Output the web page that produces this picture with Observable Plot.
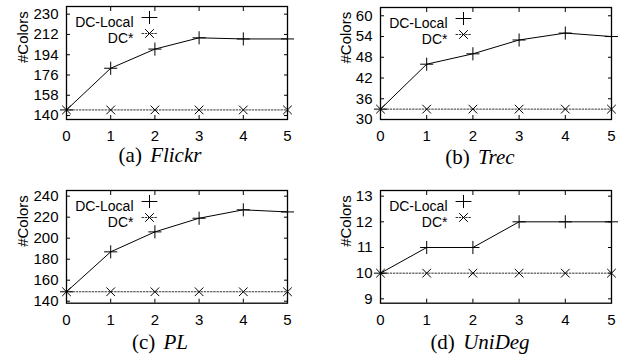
<!DOCTYPE html>
<html>
<head>
<meta charset="utf-8">
<script src="https://cdn.jsdelivr.net/npm/d3@7"></script>
<script src="https://cdn.jsdelivr.net/npm/@observablehq/plot@0.6"></script>
<style>
  html, body { margin: 0; padding: 0; background: #fff; color: #000; }
  #wrap { position: relative; width: 639px; height: 360px; overflow: hidden; }
  .panel { position: absolute; width: 320px; }
  .panel svg { display: block; }
  .cap { position: absolute; width: 320px; text-align: center; font-family: "Liberation Serif", "Times New Roman", serif; font-size: 21px; line-height: 21px; white-space: nowrap; }
  .cap i { font-style: italic; margin-left: 3px; }
</style>
</head>
<body>
<div id="wrap"></div>
<script>
// ---- data ----
const xs = [0, 1, 2, 3, 4, 5];
const seriesNames = ["DC-Local", "DC*"];
const yLabel = "#Colors";

const flickrLocal = [145, 182, 199, 209, 208, 208];
const flickrStar  = [145, 145, 145, 145, 145, 145];
const flickrTicks = [140, 158, 176, 194, 212, 230];

const trecLocal = [33, 46, 49, 53, 55, 54];
const trecStar  = [33, 33, 33, 33, 33, 33];
const trecTicks = [30, 36, 42, 48, 54, 60];

const plLocal = [149, 187, 206, 219, 227, 225];
const plStar  = [149, 149, 149, 149, 149, 149];
const plTicks = [140, 160, 180, 200, 220, 240];

const unidegLocal = [10, 11, 11, 12, 12, 12];
const unidegStar  = [10, 10, 10, 10, 10, 10];
const unidegTicks = [9, 10, 11, 12, 13];

const captionLetters = ["(a)", "(b)", "(c)", "(d)"];
const captionNames = ["Flickr", "Trec", "PL", "UniDeg"];

// ---- layout ----
const panels = [
  {local: flickrLocal, star: flickrStar, ticks: flickrTicks, domain: [136.5, 236.8],
   left: 0, top: 0, mL: 66, mR: 33, mT: 6, mB: 31, lab: 43, capBase: 163},
  {local: trecLocal, star: trecStar, ticks: trecTicks, domain: [30, 62.4],
   left: 320, top: 0, mL: 60, mR: 29, mT: 7, mB: 31, lab: 34, capBase: 165},
  {local: plLocal, star: plStar, ticks: plTicks, domain: [138.1, 245.4],
   left: 0, top: 180, mL: 66, mR: 33, mT: 10, mB: 27.3, lab: 43, capBase: 170},
  {local: unidegLocal, star: unidegStar, ticks: unidegTicks, domain: [8.83, 13.22],
   left: 320, top: 180, mL: 60, mR: 29, mT: 10, mB: 27.3, lab: 34, capBase: 170}
];

const lineShape = {draw(ctx, l) { ctx.moveTo(0, 0); ctx.lineTo(0, -l); }};
const wrap = document.getElementById("wrap");

panels.forEach((p, i) => {
  const localRows = xs.map((x, j) => ({x, y: p.local[j]}));
  const starRows = xs.map((x, j) => ({x, y: p.star[j]}));
  const chart = Plot.plot({
    width: 320,
    height: 150,
    marginLeft: p.mL, marginRight: p.mR, marginTop: p.mT, marginBottom: p.mB,
    style: {fontFamily: "'Liberation Sans', Arial, sans-serif", fontSize: "15px", color: "#000", background: "transparent"},
    x: {domain: [0, 5]},
    y: {domain: p.domain},
    marks: [
      // inward ticks
      Plot.axisY(p.ticks, {anchor: "left", tickSize: -4, fill: "none", label: null, strokeWidth: 1}),
      Plot.axisY(p.ticks, {anchor: "right", tickSize: -4, fill: "none", label: null, strokeWidth: 1}),
      Plot.axisX(xs, {anchor: "bottom", tickSize: -4, fill: "none", label: null, strokeWidth: 1}),
      Plot.axisX(xs, {anchor: "top", tickSize: -4, fill: "none", label: null, strokeWidth: 1}),
      // tick labels
      Plot.axisY(p.ticks, {anchor: "left", tickSize: 0, tickPadding: 8, label: null, fontSize: 15}),
      Plot.axisX(xs, {anchor: "bottom", tickSize: 0, tickPadding: 11, label: null, fontSize: 15}),
      Plot.text([yLabel], {frameAnchor: "left", text: d => d, rotate: -90, dx: -p.lab, fontSize: 15}),
      // series
      Plot.line(starRows, {x: "x", y: "y", stroke: "#333", strokeWidth: 1, strokeDasharray: "1.6,1.6"}),
      Plot.dot(starRows, {x: "x", y: "y", symbol: "times", r: 4, stroke: "#000", strokeWidth: 1}),
      Plot.line(localRows, {x: "x", y: "y", stroke: "#000", strokeWidth: 1}),
      Plot.dot(localRows, {x: "x", y: "y", symbol: "plus", r: 4.3, stroke: "#000", strokeWidth: 1}),
      // legend
      Plot.text([seriesNames[0]], {frameAnchor: "top-left", text: d => d, dx: 67, dy: 11, textAnchor: "end", fontSize: 14}),
      Plot.text([seriesNames[1]], {frameAnchor: "top-left", text: d => d, dx: 67, dy: 27, textAnchor: "end", fontSize: 14}),
      Plot.vector([seriesNames[0]], {frameAnchor: "top-left", dx: 83, dy: 11, length: 15, rotate: 90, anchor: "middle", shape: lineShape, stroke: "#000", strokeWidth: 1}),
      Plot.dot([seriesNames[0]], {frameAnchor: "top-left", dx: 83, dy: 11, symbol: "plus", r: 4.3, stroke: "#000", strokeWidth: 1}),
      Plot.vector([seriesNames[1]], {frameAnchor: "top-left", dx: 83, dy: 27, length: 15, rotate: 90, anchor: "middle", shape: lineShape, stroke: "#333", strokeWidth: 1, strokeDasharray: "1.6,1.6"}),
      Plot.dot([seriesNames[1]], {frameAnchor: "top-left", dx: 83, dy: 27, symbol: "times", r: 4, stroke: "#000", strokeWidth: 1}),
      Plot.frame({stroke: "#000", strokeWidth: 1.3})
    ]
  });
  const div = document.createElement("div");
  div.className = "panel";
  div.style.left = p.left + "px";
  div.style.top = p.top + "px";
  div.appendChild(chart);
  wrap.appendChild(div);

  const cap = document.createElement("div");
  cap.className = "cap";
  cap.style.left = p.left + "px";
  cap.style.top = (p.top + p.capBase - 17.6) + "px";
  cap.innerHTML = captionLetters[i] + " <i>" + captionNames[i] + "</i>";
  wrap.appendChild(cap);
});
</script>
</body>
</html>
